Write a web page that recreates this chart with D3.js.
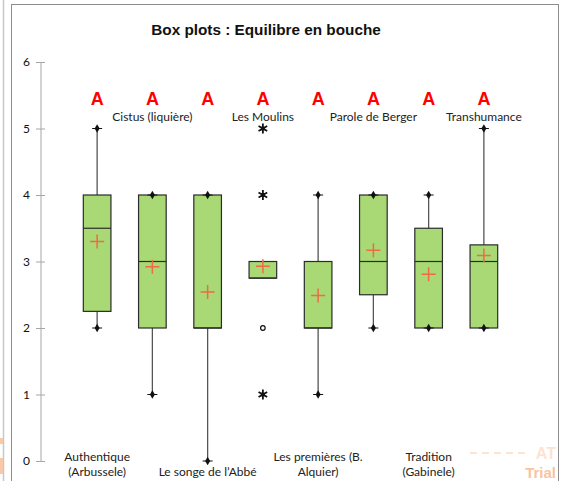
<!DOCTYPE html>
<html>
<head>
<meta charset="utf-8">
<script src="https://cdn.jsdelivr.net/npm/d3@7"></script>
<style>
  body { margin: 0; background: #fff; }
  svg { display: block; }
</style>
</head>
<body>
<div id="chart"></div>
<script>
// Data
const categories = [
  "Authentique (Arbussele)", "Cistus (liquière)", "Le songe de l’Abbé", "Les Moulins",
  "Les premières (B. Alquier)", "Parole de Berger", "Tradition (Gabinele)", "Transhumance"
];
const labelLines = [
  ["Authentique", "(Arbussele)"], ["Cistus (liquière)"], ["Le songe de l’Abbé"], ["Les Moulins"],
  ["Les premières (B.", "Alquier)"], ["Parole de Berger"], ["Tradition", "(Gabinele)"], ["Transhumance"]
];
const mins    = [2, 1, 0, 2.75, 1, 2, 2, 2];
const q1s     = [2.25, 2, 2, 2.75, 2, 2.5, 2, 2];
const medians = [3.5, 3, 2, 2.75, 2, 3, 3, 3];
const q3s     = [4, 4, 4, 3, 3, 4, 3.5, 3.25];
const maxs    = [5, 4, 4, 3, 4, 4, 4, 5];
const means   = [3.3, 2.92, 2.54, 2.93, 2.49, 3.17, 2.81, 3.09];
// outliers: [value, kind] kind "x" = extreme (asterisk), "o" = mild (circle)
const outliers = [[], [], [], [[5, "x"], [4, "x"], [2, "o"], [1, "x"]], [], [], [], []];
const groups  = ["A", "A", "A", "A", "A", "A", "A", "A"];
const yTicks  = [0, 1, 2, 3, 4, 5, 6];

const W = 561, H = 481;
const svg = d3.select('#chart').append('svg')
    .attr('width', W)
    .attr('height', H);

// outer frame lines
svg.append('line')
    .attr('x1', 3.5).attr('y1', 0).attr('x2', 3.5).attr('y2', H)
    .attr('stroke', '#c8c8c8').attr('stroke-width', 1.5);
svg.append('rect')
    .attr('x', 11.5).attr('y', 4.5)
    .attr('width', 547).attr('height', H)
    .attr('fill', 'none')
    .attr('stroke', '#8c8c8c');

// watermark fragments
svg.append('rect').attr('x', 0).attr('y', 438).attr('width', 3).attr('height', 6).attr('fill', '#f8c9a8');
svg.append('rect').attr('x', 0).attr('y', 458).attr('width', 3).attr('height', 16).attr('fill', '#f8c9a8');
svg.append('line')
    .attr('x1', 470).attr('y1', 453).attr('x2', 530).attr('y2', 453)
    .attr('stroke', '#fde3d2').attr('stroke-width', 2).attr('stroke-dasharray', '7,5');
svg.append('text')
    .attr('x', 556).attr('y', 459)
    .attr('text-anchor', 'end')
    .attr('font-family', 'Liberation Sans, Arial, sans-serif')
    .attr('font-weight', 'bold').attr('font-size', 16)
    .attr('fill', '#fde3d2')
    .text('AT');
svg.append('text')
    .attr('x', 556).attr('y', 478)
    .attr('text-anchor', 'end')
    .attr('font-family', 'Liberation Sans, Arial, sans-serif')
    .attr('font-weight', 'bold').attr('font-size', 15)
    .attr('fill', '#f8c4a0')
    .text('Trial');

// Title
svg.append('text')
    .attr('x', 266).attr('y', 35)
    .attr('text-anchor', 'middle')
    .attr('font-family', 'Liberation Sans, Arial, sans-serif')
    .attr('font-weight', 'bold')
    .attr('font-size', 15.3)
    .attr('fill', '#111')
    .text('Box plots : Equilibre en bouche');

// Scales
const y = d3.scaleLinear().domain([0, 6]).range([461, 62]);
const x = d3.scaleBand().domain(categories).range([69.5, 511.5]).padding(0);
const cx = c => x(c) + x.bandwidth() / 2;
const boxW = x.bandwidth() * 0.5;

// Y axis
const yAxis = svg.append('g')
    .attr('transform', 'translate(41,0)')
    .call(d3.axisLeft(y).tickValues(yTicks).tickSize(5).tickPadding(6).tickFormat(d3.format('d')));
yAxis.select('.domain').attr('stroke', '#a6a6a6').attr('d', `M0,${y(6)}V${y(0)}`);
yAxis.selectAll('.tick line').attr('stroke', '#a6a6a6').attr('x1', 4).attr('x2', -5);
yAxis.selectAll('.tick text')
    .attr('font-family', 'Lato, Noto Sans, sans-serif')
    .attr('font-size', 12)
    .attr('fill', '#111');

const lab = 'Lato, Noto Sans, sans-serif';

// Boxes
const g = svg.append('g');
categories.forEach((c, i) => {
  const xc = cx(c);
  // whiskers
  g.append('line')
      .attr('x1', xc).attr('x2', xc)
      .attr('y1', y(q3s[i])).attr('y2', y(maxs[i]))
      .attr('stroke', '#555').attr('stroke-width', 1.3);
  g.append('line')
      .attr('x1', xc).attr('x2', xc)
      .attr('y1', y(q1s[i])).attr('y2', y(mins[i]))
      .attr('stroke', '#555').attr('stroke-width', 1.3);
  // box
  g.append('rect')
      .attr('x', xc - boxW / 2).attr('width', boxW)
      .attr('y', y(q3s[i])).attr('height', y(q1s[i]) - y(q3s[i]))
      .attr('fill', '#a8d975')
      .attr('stroke', '#2b2b2b').attr('stroke-width', 1.2);
  // median
  g.append('line')
      .attr('x1', xc - boxW / 2).attr('x2', xc + boxW / 2)
      .attr('y1', y(medians[i])).attr('y2', y(medians[i]))
      .attr('stroke', '#2b2b2b').attr('stroke-width', 1.2);
  // whisker end markers (only where a whisker exists)
  [[mins[i], q1s[i]], [maxs[i], q3s[i]]].forEach(([v, q]) => {
    if (v === q && categories[i] === "Les Moulins") return;
    g.append('line')
        .attr('x1', xc - 5).attr('x2', xc + 5)
        .attr('y1', y(v)).attr('y2', y(v))
        .attr('stroke', '#111').attr('stroke-width', 1);
    g.append('path')
        .attr('d', d3.symbol(d3.symbolDiamond, 22)())
        .attr('transform', `translate(${xc},${y(v)})`)
        .attr('fill', '#111');
  });
  // mean cross
  g.append('path')
      .attr('d', `M${xc - 7},${y(means[i])}H${xc + 7}M${xc},${y(means[i]) - 7}V${y(means[i]) + 7}`)
      .attr('stroke', '#ef6a45').attr('stroke-width', 1.5).attr('fill', 'none');
  // outliers
  outliers[i].forEach(([v, k]) => {
    if (k === 'o') {
      g.append('circle')
          .attr('cx', xc).attr('cy', y(v)).attr('r', 2.3)
          .attr('fill', 'none').attr('stroke', '#111').attr('stroke-width', 1.2);
    } else {
      g.append('path')
          .attr('d', d3.symbol(d3.symbolAsterisk, 70)())
          .attr('transform', `translate(${xc},${y(v)})`)
          .attr('fill', 'none').attr('stroke', '#111').attr('stroke-width', 1.8);
      g.append('rect')
          .attr('x', xc - 1.8).attr('y', y(v) - 1.8)
          .attr('width', 3.6).attr('height', 3.6)
          .attr('fill', '#111');
    }
  });
  // group letter
  g.append('text')
      .attr('x', xc).attr('y', 105)
      .attr('text-anchor', 'middle')
      .attr('font-family', 'Liberation Sans, Arial, sans-serif')
      .attr('font-weight', 'bold').attr('font-size', 18)
      .attr('fill', '#ff0000')
      .text(groups[i]);
  // category labels (alternating bottom / top)
  const lines = labelLines[i];
  if (i % 2 === 0) {
    lines.forEach((t, j) => {
      g.append('text')
          .attr('x', xc).attr('y', 476 - (lines.length - 1 - j) * 15)
          .attr('text-anchor', 'middle')
          .attr('font-family', lab).attr('font-size', 12)
          .attr('fill', '#222')
          .text(t);
    });
  } else {
    g.append('text')
        .attr('x', xc).attr('y', 121)
        .attr('text-anchor', 'middle')
        .attr('font-family', lab).attr('font-size', 12)
        .attr('fill', '#222')
        .text(lines[0]);
  }
});
</script>
</body>
</html>
